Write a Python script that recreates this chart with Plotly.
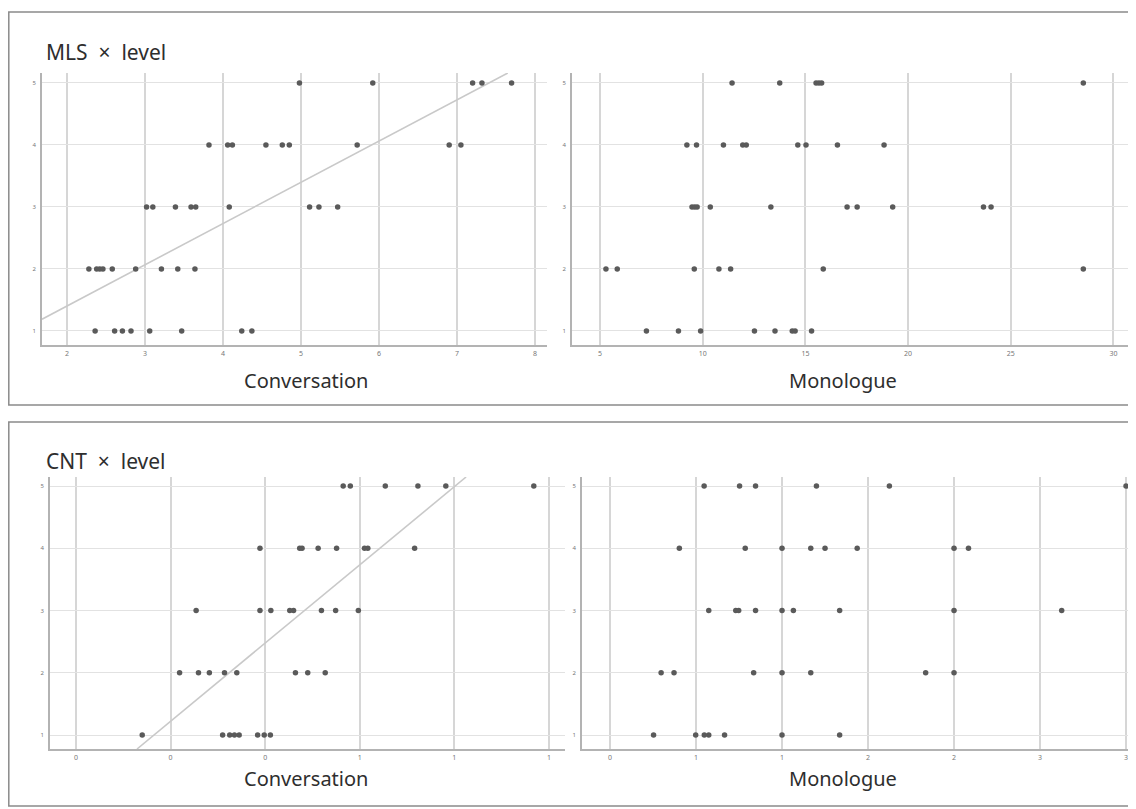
import plotly.graph_objects as go

# The page body has an 8px margin, so the figure is drawn 8px smaller and
# every reference pixel position is shifted by that offset.
OFF = 8
W, H = 1136 - OFF, 809 - OFF

# ---------------- data ----------------
levels = [5, 4, 3, 2, 1]

mls_conv = {
    5: [4.98, 5.92, 7.20, 7.32, 7.70],
    4: [3.82, 4.06, 4.12, 4.55, 4.76, 4.85, 5.72, 6.90, 7.05],
    3: [3.02, 3.10, 3.39, 3.59, 3.65, 4.08, 5.11, 5.23, 5.47],
    2: [2.28, 2.38, 2.42, 2.46, 2.58, 2.88, 3.21, 3.42, 3.64],
    1: [2.36, 2.61, 2.71, 2.82, 3.06, 3.47, 4.24, 4.37],
}
mls_mono = {
    5: [11.43, 13.75, 15.52, 15.66, 15.79, 28.53],
    4: [9.23, 9.70, 11.01, 11.95, 12.12, 14.63, 15.03, 16.56, 18.83],
    3: [9.48, 9.61, 9.73, 10.37, 13.32, 17.03, 17.52, 19.25, 23.67, 24.04],
    2: [5.29, 5.84, 9.59, 10.79, 11.36, 15.87, 28.53],
    1: [7.26, 8.82, 9.90, 12.52, 13.52, 14.36, 14.50, 15.30],
}
cnt_conv = {
    5: [0.565, 0.580, 0.654, 0.723, 0.782, 0.968],
    4: [0.389, 0.473, 0.478, 0.512, 0.551, 0.610, 0.617, 0.716],
    3: [0.254, 0.389, 0.412, 0.452, 0.460, 0.519, 0.549, 0.597],
    2: [0.219, 0.259, 0.282, 0.314, 0.340, 0.464, 0.490, 0.527],
    1: [0.140, 0.310, 0.325, 0.335, 0.345, 0.384, 0.398, 0.411],
}
cnt_mono = {
    5: [0.547, 0.753, 0.846, 1.20, 1.624, 3.00],
    4: [0.403, 0.786, 1.0, 1.167, 1.25, 1.437, 2.0, 2.084],
    3: [0.574, 0.731, 0.748, 0.846, 1.0, 1.066, 1.335, 2.0, 2.626],
    2: [0.297, 0.372, 0.835, 1.0, 1.167, 1.835, 2.0],
    1: [0.253, 0.498, 0.548, 0.574, 0.666, 1.0, 1.335],
}

# fit lines (slope, intercept) for Conversation panels
mls_fit = (0.665, 0.073)
cnt_fit = (6.28, -0.035)

mls_conv_ticks = [2, 3, 4, 5, 6, 7, 8]
mls_conv_ticktext = ["2", "3", "4", "5", "6", "7", "8"]
mls_mono_ticks = [5, 10, 15, 20, 25, 30]
mls_mono_ticktext = ["5", "10", "15", "20", "25", "30"]
cnt_conv_ticks = [0, 0.2, 0.4, 0.6, 0.8, 1.0]
cnt_conv_ticktext = ["0", "0", "0", "1", "1", "1"]
cnt_mono_ticks = [0, 0.5, 1.0, 1.5, 2.0, 2.5, 3.0]
cnt_mono_ticktext = ["0", "1", "1", "2", "2", "3", "3"]
y_ticks = [1, 2, 3, 4, 5]

# ---------------- layout helpers ----------------
def px_x(p):
    return (p - OFF) / W

def px_y(p):
    return 1 - (p - OFF) / H

fig = go.Figure()

panels = [
    ("1", mls_conv, (42, 547), (73, 345), (1.679, 8.154), (0.774, 5.161), mls_conv_ticks, mls_conv_ticktext, mls_fit),
    ("2", mls_mono, (572, 1129), (73, 345), (3.637, 30.755), (0.774, 5.161), mls_mono_ticks, mls_mono_ticktext, None),
    ("3", cnt_conv, (50, 565), (477, 749), (-0.055, 1.034), (0.775, 5.145), cnt_conv_ticks, cnt_conv_ticktext, cnt_fit),
    ("4", cnt_mono, (582, 1136), (477, 749), (-0.163, 3.058), (0.775, 5.145), cnt_mono_ticks, cnt_mono_ticktext, None),
]

layout_axes = {}
for n, data, dx, dy, xr, yr, tv, tt, fit in panels:
    xa = "x" if n == "1" else "x" + n
    ya = "y" if n == "1" else "y" + n
    xkey = "xaxis" if n == "1" else "xaxis" + n
    ykey = "yaxis" if n == "1" else "yaxis" + n
    if fit is not None:
        s, b = fit
        x0 = max(xr[0], (yr[0] - b) / s)
        x1 = min(xr[1], (yr[1] - b) / s)
        fig.add_trace(go.Scatter(
            x=[x0, x1], y=[s * x0 + b, s * x1 + b], mode="lines",
            line=dict(color="#c9c9c9", width=1.6), xaxis=xa, yaxis=ya,
            showlegend=False, hoverinfo="skip"))
    xs, ys = [], []
    for lv in levels:
        for v in data[lv]:
            xs.append(v)
            ys.append(lv)
    fig.add_trace(go.Scatter(
        x=xs, y=ys, mode="markers",
        marker=dict(color="#5a5a5a", size=5.5, line=dict(width=0)),
        xaxis=xa, yaxis=ya, showlegend=False))
    layout_axes[xkey] = dict(
        domain=[px_x(dx[0]), min(1.0, px_x(dx[1]))], range=list(xr), anchor=ya,
        tickmode="array", tickvals=tv, ticktext=tt,
        showgrid=True, gridcolor="#d6d6d6", gridwidth=1.6,
        zeroline=False, showline=True, linecolor="#b3b3b3", linewidth=1.6,
        ticks="", tickfont=dict(size=7, color="#777", family="Noto Sans"),
        ticklabelstandoff=1)
    layout_axes[ykey] = dict(
        domain=[px_y(dy[1]), px_y(dy[0])], range=list(yr), anchor=xa,
        tickmode="array", tickvals=y_ticks,
        showgrid=True, gridcolor="#e2e2e2", gridwidth=1.2,
        zeroline=False, showline=True, linecolor="#b3b3b3", linewidth=1.6,
        ticks="", tickfont=dict(size=6, color="#777", family="Noto Sans"),
        ticklabelstandoff=3)

shapes = [
    dict(type="rect", xref="paper", yref="paper",
         x0=px_x(8.8), x1=px_x(1150), y0=px_y(405), y1=px_y(12),
         line=dict(color="#8a8a8a", width=1.5), fillcolor="rgba(0,0,0,0)", layer="below"),
    dict(type="rect", xref="paper", yref="paper",
         x0=px_x(8.8), x1=px_x(1150), y0=px_y(806), y1=px_y(422),
         line=dict(color="#8a8a8a", width=1.5), fillcolor="rgba(0,0,0,0)", layer="below"),
]

NB = "\u00a0"
txt_font = dict(family="Noto Sans", color="#2e2e2e")
annotations = [
    dict(text="MLS" + NB * 2 + "×" + NB * 2 + "level", x=px_x(44), y=px_y(52),
         xanchor="left", yanchor="middle", font=dict(size=21, **txt_font)),
    dict(text="CNT" + NB * 2 + "×" + NB * 2 + "level", x=px_x(44), y=px_y(461),
         xanchor="left", yanchor="middle", font=dict(size=21, **txt_font)),
    dict(text="Conversation", x=px_x(306), y=px_y(380), xanchor="center", yanchor="middle",
         font=dict(size=20, **txt_font)),
    dict(text="Monologue", x=px_x(843), y=px_y(380), xanchor="center", yanchor="middle",
         font=dict(size=20, **txt_font)),
    dict(text="Conversation", x=px_x(306), y=px_y(778), xanchor="center", yanchor="middle",
         font=dict(size=20, **txt_font)),
    dict(text="Monologue", x=px_x(843), y=px_y(778), xanchor="center", yanchor="middle",
         font=dict(size=20, **txt_font)),
]
for a in annotations:
    a.update(xref="paper", yref="paper", showarrow=False)

fig.update_layout(
    width=W, height=H, margin=dict(l=0, r=0, t=0, b=0),
    paper_bgcolor="white", plot_bgcolor="white",
    shapes=shapes, annotations=annotations, showlegend=False,
    **layout_axes)

fig.write_html("out.html")
